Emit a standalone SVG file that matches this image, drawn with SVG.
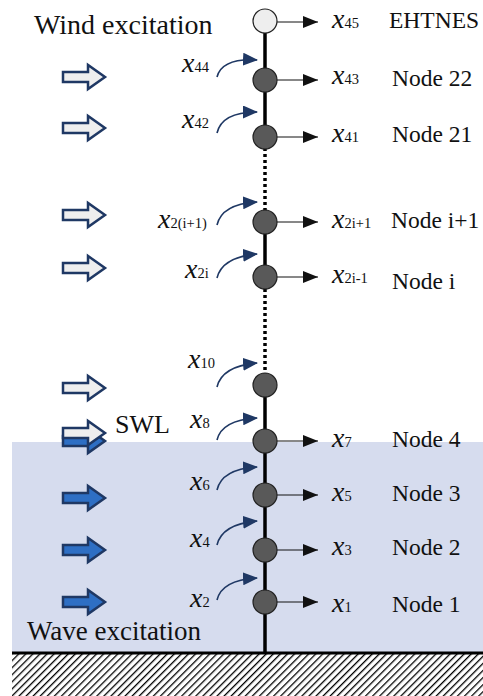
<svg xmlns="http://www.w3.org/2000/svg" width="483" height="696" viewBox="0 0 483 696">
<style>
.t{fill:#111}
.big{font-size:28px}
.wv{font-size:27px}
.lbl{font-size:23.5px}
.xv{font-style:italic;font-size:28px;fill:#111}
.sub{font-style:normal;font-size:14.5px}
.node{fill:#595959;stroke:#222;stroke-width:1.2}
.top{fill:#eeeeee;stroke:#222;stroke-width:1.2}
.harr{stroke:#111;stroke-width:1;fill:none}
.curve{stroke:#1f3864;stroke-width:1.6;fill:none}
.wind{fill:#eeeeee;stroke:#1f3864;stroke-width:2.5}
.wave{fill:#2e6fc4;stroke:#1f3864;stroke-width:2.5}
</style>
<defs>
<marker id="ah" markerWidth="15" markerHeight="12" refX="15" refY="6" orient="auto" markerUnits="userSpaceOnUse" viewBox="0 0 15 12"><path d="M0,0 L15,6 L0,12 Z" fill="#111"/></marker>
<marker id="ch" markerWidth="15" markerHeight="13" refX="14" refY="6.5" orient="auto" markerUnits="userSpaceOnUse" viewBox="0 0 15 13"><path d="M0,0 L15,6.5 L0,13 Z" fill="#1f3864"/></marker>
<pattern id="hatch" patternUnits="userSpaceOnUse" width="5" height="5" patternTransform="rotate(45)"><rect width="5" height="5" fill="#fff"/><line x1="0" y1="0" x2="0" y2="5" stroke="#000" stroke-width="2.6"/></pattern>
<path id="blk" d="M0,-5 H25 V-12 L42,0 L25,12 V5 H0 Z"/>
</defs>

<g id="water"><rect x="12" y="442" width="471" height="210" fill="#d6dcee"/></g>
<g id="ground">
<rect x="12" y="654" width="471" height="42" fill="url(#hatch)"/>
<line x1="12" y1="653" x2="483" y2="653" stroke="#000" stroke-width="3"/>
</g>

<g id="connectors">
<line x1="265" y1="30" x2="265" y2="148" stroke="#000" stroke-width="3.5"/>
<line x1="265" y1="148" x2="265" y2="210" stroke="#000" stroke-width="3.5" stroke-dasharray="3,3"/>
<line x1="265" y1="210" x2="265" y2="289" stroke="#000" stroke-width="3.5"/>
<line x1="265" y1="289" x2="265" y2="373" stroke="#000" stroke-width="3.5" stroke-dasharray="3,3"/>
<line x1="265" y1="373" x2="265" y2="652" stroke="#000" stroke-width="3.5"/>
<g marker-end="url(#ah)" class="harr">
<line x1="277" y1="22" x2="318" y2="22"/>
<line x1="277" y1="80" x2="318" y2="80"/>
<line x1="277" y1="137" x2="318" y2="137"/>
<line x1="277" y1="222" x2="318" y2="222"/>
<line x1="277" y1="277" x2="318" y2="277"/>
<line x1="277" y1="441" x2="318" y2="441"/>
<line x1="277" y1="495" x2="318" y2="495"/>
<line x1="277" y1="550" x2="318" y2="550"/>
<line x1="277" y1="602" x2="318" y2="602"/>
</g>
<g marker-end="url(#ch)" class="curve">
<path d="M217,77 Q222,58 257,60"/>
<path d="M217,133 Q222,112 257,112"/>
<path d="M217,225 Q222,204 257,202"/>
<path d="M217,278 Q222,257 257,254"/>
<path d="M217,387 Q222,366 257,363"/>
<path d="M217,440 Q222,420 257,418"/>
<path d="M217,490 Q222,469 257,467"/>
<path d="M217,545 Q222,524 257,521"/>
<path d="M217,600 Q222,580 257,578"/>
</g>
</g>

<g id="n45"><circle cx="265" cy="21" r="12" class="top"/></g>
<g id="n22"><circle cx="265" cy="80" r="12" class="node"/></g>
<g id="n21"><circle cx="265" cy="137" r="12" class="node"/></g>
<g id="ni1"><circle cx="265" cy="222" r="12" class="node"/></g>
<g id="ni"><circle cx="265" cy="277" r="12" class="node"/></g>
<g id="n5"><circle cx="265" cy="385" r="12" class="node"/></g>
<g id="n4"><circle cx="265" cy="441" r="12" class="node"/></g>
<g id="n3"><circle cx="265" cy="495" r="12" class="node"/></g>
<g id="n2"><circle cx="265" cy="550" r="12" class="node"/></g>
<g id="n1"><circle cx="265" cy="602" r="12" class="node"/></g>

<g id="excitation">
<use href="#blk" transform="translate(63,77)" class="wind"/>
<use href="#blk" transform="translate(63,128)" class="wind"/>
<use href="#blk" transform="translate(63,215)" class="wind"/>
<use href="#blk" transform="translate(63,268)" class="wind"/>
<use href="#blk" transform="translate(63,388)" class="wind"/>
<use href="#blk" transform="translate(63,441)" class="wave"/>
<use href="#blk" transform="translate(63,433)" class="wind"/>
<use href="#blk" transform="translate(63,498)" class="wave"/>
<use href="#blk" transform="translate(63,550)" class="wave"/>
<use href="#blk" transform="translate(63,602)" class="wave"/>
</g>

<g id="labels" font-family="'Liberation Serif', 'Times New Roman', 'DejaVu Serif', serif">
<text x="34" y="34" class="t big">Wind excitation</text>
<text x="27" y="640" class="t wv">Wave excitation</text>
<text x="115" y="433" class="t" font-size="26px">SWL</text>
<text x="389" y="28" class="t" font-size="23.5px">EHTNES</text>
<text x="392" y="86" class="t lbl">Node 22</text>
<text x="392" y="142" class="t lbl">Node 21</text>
<text x="391" y="228" class="t lbl">Node i+1</text>
<text x="392" y="289" class="t lbl">Node i</text>
<text x="392" y="447" class="t lbl">Node 4</text>
<text x="392" y="501" class="t lbl">Node 3</text>
<text x="392" y="555" class="t lbl">Node 2</text>
<text x="392" y="612" class="t lbl">Node 1</text>

<text x="332" y="28" class="xv">x<tspan class="sub">45</tspan></text>
<text x="332" y="84" class="xv">x<tspan class="sub">43</tspan></text>
<text x="332" y="142" class="xv">x<tspan class="sub">41</tspan></text>
<text x="332" y="228" class="xv">x<tspan class="sub">2i+1</tspan></text>
<text x="332" y="283" class="xv">x<tspan class="sub">2i-1</tspan></text>
<text x="332" y="447" class="xv">x<tspan class="sub">7</tspan></text>
<text x="332" y="501" class="xv">x<tspan class="sub">5</tspan></text>
<text x="332" y="555" class="xv">x<tspan class="sub">3</tspan></text>
<text x="332" y="612" class="xv">x<tspan class="sub">1</tspan></text>

<text x="182" y="72" class="xv">x<tspan class="sub">44</tspan></text>
<text x="182" y="128" class="xv">x<tspan class="sub">42</tspan></text>
<text x="158" y="228" class="xv">x<tspan class="sub">2(i+1)</tspan></text>
<text x="185" y="278" class="xv">x<tspan class="sub">2i</tspan></text>
<text x="188" y="368" class="xv">x<tspan class="sub">10</tspan></text>
<text x="190" y="428" class="xv">x<tspan class="sub">8</tspan></text>
<text x="190" y="490" class="xv">x<tspan class="sub">6</tspan></text>
<text x="190" y="547" class="xv">x<tspan class="sub">4</tspan></text>
<text x="190" y="607" class="xv">x<tspan class="sub">2</tspan></text>
</g>
</svg>
